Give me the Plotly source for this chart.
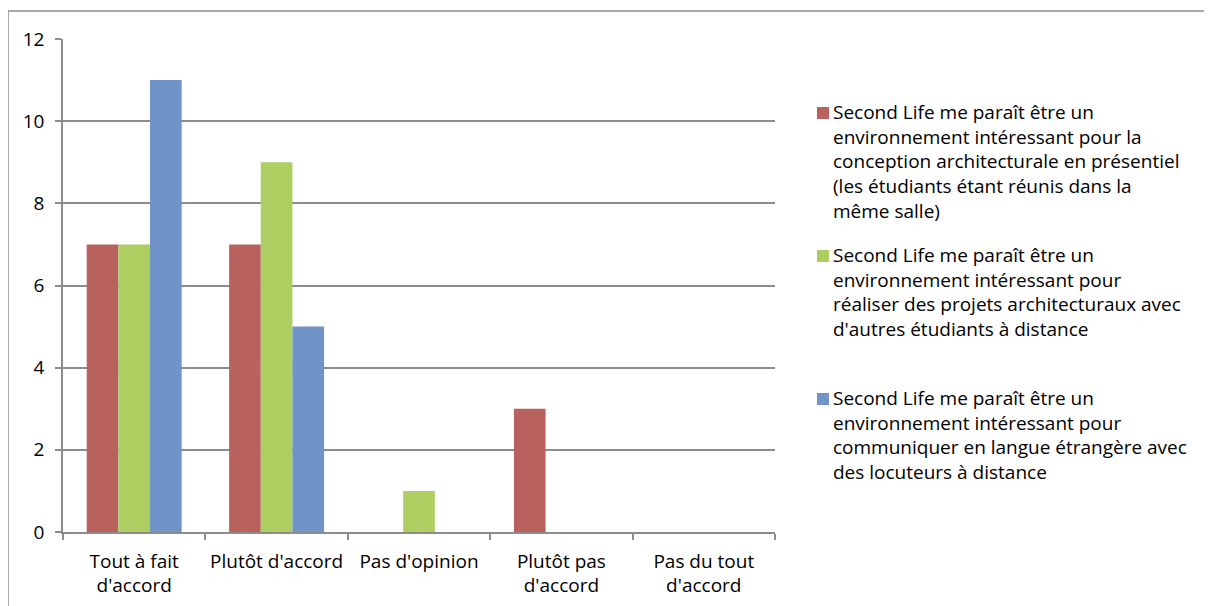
import plotly.graph_objects as go

categories = ["Tout à fait<br>d'accord", "Plutôt d'accord", "Pas d'opinion", "Plutôt pas<br>d'accord", "Pas du tout<br>d'accord"]
series_names = [
    ["Second Life me paraît être un", "environnement intéressant pour la", "conception architecturale en présentiel", "(les étudiants étant réunis dans la", "même salle)"],
    ["Second Life me paraît être un", "environnement intéressant pour", "réaliser des projets architecturaux avec", "d'autres étudiants à distance"],
    ["Second Life me paraît être un", "environnement intéressant pour", "communiquer en langue étrangère avec", "des locuteurs à distance"],
]
red_values = [7, 7, 0, 3, 0]
green_values = [7, 9, 1, 0, 0]
blue_values = [11, 5, 0, 0, 0]
colors = ["#B8615D", "#ADCF62", "#7094C8"]
y_ticks = [0, 2, 4, 6, 8, 10, 12]

OFF = 8  # page body margin
W, H = 1212 - OFF, 606 - OFF
L, R, T, B = 63 - OFF, 775 - OFF, 39 - OFF, 532 - OFF
FONT = "Open Sans"
FS = 19
LINE = FS * 1.3

fig = go.Figure()
for vals, col, name in zip([red_values, green_values, blue_values], colors, series_names):
    fig.add_trace(go.Bar(x=categories, y=vals, marker=dict(color=col, line=dict(width=0)),
                         name=" ".join(name), showlegend=False))

def px_to_paper_x(px):
    return (px - OFF - L) / (R - L)

def px_to_paper_y(py):
    return (B - (py - OFF)) / (B - T)

annotations = []
shapes = []
item_tops = [113, 256, 399]
for lines, col, top in zip(series_names, colors, item_tops):
    shapes.append(dict(type="rect", xref="paper", yref="paper",
                       x0=px_to_paper_x(817), x1=px_to_paper_x(829),
                       y0=px_to_paper_y(top + 6), y1=px_to_paper_y(top - 6),
                       fillcolor=col, line=dict(width=0)))
    annotations.append(dict(text="<br>".join(lines), xref="paper", yref="paper",
                            x=px_to_paper_x(831), y=px_to_paper_y(top - LINE / 2 - 4),
                            xanchor="left", yanchor="top", align="left", showarrow=False,
                            font=dict(family=FONT, size=FS, color="#000000")))

# outer frame
shapes.append(dict(type="rect", xref="paper", yref="paper",
                   x0=px_to_paper_x(8), x1=px_to_paper_x(1211),
                   y0=px_to_paper_y(640), y1=px_to_paper_y(11),
                   line=dict(color="#8f8f8f", width=1.5), fillcolor="rgba(0,0,0,0)", layer="below"))

fig.update_layout(
    width=W, height=H,
    margin=dict(l=L, r=W - R, t=T, b=H - B, pad=0, autoexpand=False),
    paper_bgcolor="white", plot_bgcolor="white",
    barmode="group", bargap=0.333, bargroupgap=0,
    font=dict(family=FONT, size=FS, color="#000000"),
    annotations=annotations, shapes=shapes,
    xaxis=dict(type="category", showline=True, linecolor="#8c8c8c", linewidth=1.5,
               ticks="outside", tickson="boundaries", ticklen=6, tickcolor="#8c8c8c", tickwidth=1.5,
               showgrid=False, tickfont=dict(family=FONT, size=FS, color="#000000"),
               tickangle=0, ticklabelstandoff=11, fixedrange=True),
    yaxis=dict(range=[0, 12], tickvals=y_ticks, showline=True, linecolor="#8c8c8c", linewidth=1.5,
               ticks="outside", ticklen=6, tickcolor="#8c8c8c", tickwidth=1.5,
               showgrid=True, gridcolor="#8c8c8c", gridwidth=1.5, zeroline=False,
               tickfont=dict(family=FONT, size=FS, color="#000000"), ticklabelstandoff=7,
               fixedrange=True),
)

fig.write_html("out.html")
